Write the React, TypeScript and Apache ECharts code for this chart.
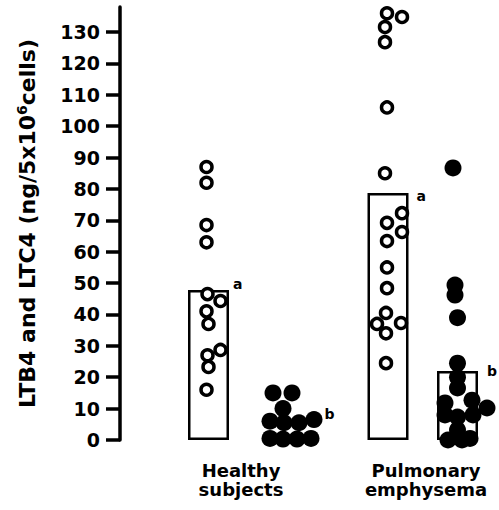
import React, { useEffect, useRef } from "react";
import * as echarts from "echarts";

// ---- data ----
const groupNames = ["Healthy\nsubjects", "Pulmonary\nemphysema"];
const groupLabelX = [121, 306];
const yTicks = [0, 10, 20, 30, 40, 50, 60, 70, 80, 90, 100, 110, 120, 130];

// column centres on the (hidden) x axis
const columnX = [88.5, 172, 268, 337.5];
const columnMeans = [47.8, 6, 78.7, 22];
const columnLetters = ["a", "b", "a", "b"];
const columnBoxVisible = [true, false, true, true];

// [x jitter, value]
const healthyLTB4 = [
  [-2, 87], [-2, 82], [-2, 68.5], [-2, 63], [-1, 46.5], [12, 44.3],
  [-2, 41], [0, 37], [12, 28.7], [-1, 27], [0, 23.3], [-2, 16],
];
const healthyLTC4 = [
  [-19, 15], [0, 15], [-9, 10], [-22, 6], [-8, 5.5], [7, 5.5], [22, 6.5],
  [-22, 0.5], [-9, 0.3], [5, 0.3], [19, 0.5],
];
const emphysemaLTB4 = [
  [-1, 136], [14, 134.8], [-3, 131.6], [-3, 126.8], [-1, 106], [-3, 85],
  [14, 72.3], [-1, 69.2], [14, 66.3], [-1, 63.4], [-1, 55], [-1, 48.4],
  [-2, 40.5], [-11, 37], [13, 37.3], [-2, 34], [-2, 24.5],
];
const emphysemaLTC4 = [
  [-4.5, 86.7], [-2.5, 49.4], [-2.5, 46.2], [0, 39], [0, 24.5], [0, 20],
  [0, 16.6], [-12.5, 11.8], [14.5, 12.7], [29.5, 10.2], [-12.5, 8],
  [0, 7.3], [15.5, 8], [0, 3.2], [-9.5, 0], [4.5, 0], [12.5, 0.5],
];

const FONT = "DejaVu Sans";
const letterOffsets = [[45, -13], [53, -14], [49, -4], [50, -7]];

function place(points: number[][], col: number) {
  return points.map(([dx, v]) => [columnX[col] + dx, v]);
}

export default function App() {
  const ref = useRef<HTMLDivElement>(null);
  useEffect(() => {
    document.body.style.margin = "0";
    const chart = echarts.init(ref.current!, null, { renderer: "svg" });
    const openStyle = { color: "#fff", borderColor: "#000", borderWidth: 3.5, opacity: 1 };
    const filledStyle = { color: "#000", opacity: 1 };
    chart.setOption({
      animation: false,
      grid: { left: 120, right: 0, top: 7, bottom: 70 },
      xAxis: {
        type: "value",
        min: 0,
        max: 379,
        axisLine: { show: false },
        axisTick: { show: false },
        splitLine: { show: false },
        axisLabel: {
          customValues: groupLabelX,
          formatter: (v: number) => {
            const i = groupLabelX.indexOf(v);
            return i >= 0 ? groupNames[i] : "";
          },
          margin: 21,
          color: "#000",
          fontFamily: FONT,
          fontWeight: "bold",
          fontSize: 18,
          lineHeight: 19,
        },
      },
      yAxis: {
        type: "value",
        min: 0,
        max: 138,
        interval: 10,
        splitLine: { show: false },
        axisLine: { show: true, lineStyle: { color: "#000", width: 3.5 } },
        axisTick: {
          show: true,
          length: 14,
          customValues: yTicks,
          lineStyle: { color: "#000", width: 3.5 },
        },
        axisLabel: {
          customValues: yTicks,
          margin: 20,
          color: "#000",
          fontFamily: FONT,
          fontWeight: "bold",
          fontSize: 19,
        },
        name: "{n|LTB4 and LTC4 (ng/5x10}{s|6}{n|cells)}",
        nameLocation: "middle",
        nameGap: 80,
        nameRotate: 90,
        nameTextStyle: {
          rich: {
            n: { fontFamily: FONT, fontWeight: "bold", fontSize: 22, color: "#000" },
            s: {
              fontFamily: FONT,
              fontWeight: "bold",
              fontSize: 14,
              color: "#000",
              verticalAlign: "top",
              padding: [0, 0, 11, 0],
            },
          },
        },
      },
      series: [
        {
          type: "bar",
          barWidth: 41,
          clip: false,
          z: 1,
          data: columnMeans.map((m, i) => ({
            value: [columnX[i], m],
            itemStyle: {
              color: "rgba(255,255,255,0)",
              borderColor: columnBoxVisible[i] ? "#000" : "rgba(0,0,0,0)",
              borderWidth: 2.5,
            },
            label: {
              show: true,
              formatter: columnLetters[i],
              position: letterOffsets[i],
              color: "#000",
              fontFamily: FONT,
              fontWeight: "bold",
              fontSize: 14,
            },
          })),
        },
        {
          type: "scatter",
          clip: false,
          z: 3,
          symbol: "circle",
          symbolSize: 11,
          itemStyle: openStyle,
          data: place(healthyLTB4, 0),
        },
        {
          type: "scatter",
          clip: false,
          z: 3,
          symbol: "circle",
          symbolSize: 17,
          itemStyle: filledStyle,
          data: place(healthyLTC4, 1),
        },
        {
          type: "scatter",
          clip: false,
          z: 3,
          symbol: "circle",
          symbolSize: 11,
          itemStyle: openStyle,
          data: place(emphysemaLTB4, 2),
        },
        {
          type: "scatter",
          clip: false,
          z: 3,
          symbol: "circle",
          symbolSize: 17,
          itemStyle: filledStyle,
          data: place(emphysemaLTC4, 3),
        },
      ],
    });
    return () => chart.dispose();
  }, []);
  return <div ref={ref} style={{ width: 499, height: 510 }} />;
}
